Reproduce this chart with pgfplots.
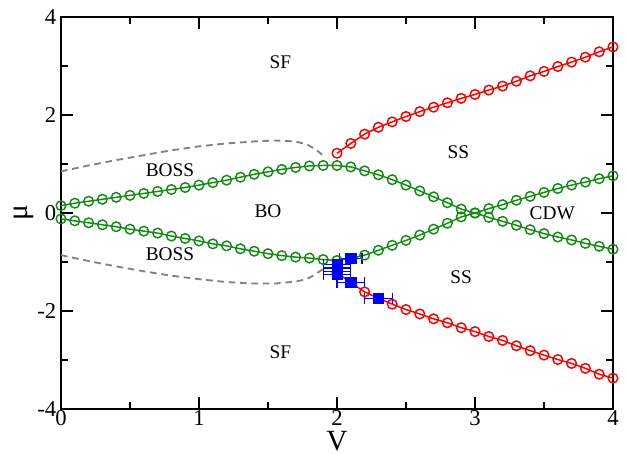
\documentclass[border=0pt]{standalone}
\usepackage{fontspec}
\setmainfont{Liberation Serif}
\usepackage{pgfplots}
\pgfplotsset{compat=1.18}
\definecolor{dgreen}{RGB}{20,140,20}
\definecolor{dgrey}{RGB}{130,130,130}
\begin{document}
\begin{tikzpicture}
\begin{axis}[
    scale only axis, width=414pt, height=294pt,
    xmin=0, xmax=4, ymin=-4, ymax=4,
    xtick={0,1,2,3,4}, ytick={-4,-2,0,2,4},
    minor xtick={0.5,1.5,2.5,3.5}, minor ytick={-3,-1,1,3},
    tick align=inside, major tick length=9pt, minor tick length=5pt,
    axis line style={line width=1pt},
    every tick/.style={black, line width=1pt},
    ticklabel style={font=\fontsize{17}{17}\selectfont},
    xticklabel style={inner sep=1pt},
    /pgf/number format/assume math mode=true,
    every axis x label/.style={at={(axis description cs:0.5,-0.081)}, anchor=center, inner sep=0pt},
    every axis y label/.style={at={(axis description cs:-0.068,0.5)}, rotate=90, anchor=center, inner sep=0pt},
    label style={font=\fontsize{22}{22}\selectfont},
    xlabel={V}, ylabel={μ},
    clip=false,
]
% boundaries of the BOSS region (grey dashed)
\addplot[dgrey, line width=1.4pt, dash pattern=on 5pt off 3.5pt] coordinates {
 (0,0.85) (0.2,0.97) (0.4,1.08) (0.6,1.18) (0.8,1.28) (1.0,1.36) (1.2,1.42)
 (1.4,1.46) (1.55,1.48) (1.7,1.46) (1.78,1.40) (1.84,1.31) (1.88,1.22) (1.91,1.13)};
\addplot[dgrey, line width=1.4pt, dash pattern=on 5pt off 3.5pt] coordinates {
 (0,-0.86) (0.2,-0.98) (0.4,-1.09) (0.6,-1.19) (0.8,-1.28) (1.0,-1.35) (1.2,-1.41)
 (1.4,-1.44) (1.55,-1.44) (1.7,-1.40) (1.78,-1.35) (1.84,-1.26) (1.88,-1.18) (1.91,-1.12)};

% BO / CDW boundaries
\addplot[dgreen, line width=1.1pt, mark=o, mark size=3.6pt, mark options={line width=1.1pt}] coordinates {
 (0.0,0.15) (0.1,0.20) (0.2,0.24) (0.3,0.28) (0.4,0.32) (0.5,0.36) (0.6,0.40)
 (0.7,0.44) (0.8,0.48) (0.9,0.52) (1.0,0.57) (1.1,0.62) (1.2,0.67) (1.3,0.73)
 (1.4,0.79) (1.5,0.84) (1.6,0.89) (1.7,0.93) (1.8,0.96) (1.9,0.97) (2.0,0.97)
 (2.1,0.94) (2.2,0.86) (2.3,0.78) (2.4,0.68) (2.5,0.57) (2.6,0.45) (2.7,0.33)
 (2.8,0.21) (2.9,0.08) (3.0,0.00) (3.1,-0.09) (3.2,-0.17) (3.3,-0.25) (3.4,-0.34)
 (3.5,-0.42) (3.6,-0.49) (3.7,-0.55) (3.8,-0.62) (3.9,-0.68) (4.0,-0.74)};
\addplot[dgreen, line width=1.1pt, mark=o, mark size=3.6pt, mark options={line width=1.1pt}] coordinates {
 (0.0,-0.12) (0.1,-0.16) (0.2,-0.20) (0.3,-0.24) (0.4,-0.28) (0.5,-0.33) (0.6,-0.37)
 (0.7,-0.41) (0.8,-0.47) (0.9,-0.52) (1.0,-0.57) (1.1,-0.63) (1.2,-0.67) (1.3,-0.73)
 (1.4,-0.78) (1.5,-0.83) (1.6,-0.87) (1.7,-0.90) (1.8,-0.92) (1.9,-0.95) (2.0,-0.97)
 (2.1,-0.93) (2.2,-0.86) (2.3,-0.76) (2.4,-0.66) (2.5,-0.56) (2.6,-0.45) (2.7,-0.33)
 (2.8,-0.21) (2.9,-0.08) (3.0,0.00) (3.1,0.09) (3.2,0.17) (3.3,0.26) (3.4,0.34)
 (3.5,0.42) (3.6,0.50) (3.7,0.57) (3.8,0.63) (3.9,0.70) (4.0,0.76)};

% SS / SF boundaries
\addplot[red, line width=1.1pt, mark=o, mark size=3.6pt, mark options={line width=1.1pt}] coordinates {
 (2.0,1.22) (2.1,1.42) (2.2,1.61) (2.3,1.75) (2.4,1.86) (2.5,1.97) (2.6,2.07)
 (2.7,2.16) (2.8,2.25) (2.9,2.34) (3.0,2.42) (3.1,2.51) (3.2,2.59) (3.3,2.69)
 (3.4,2.80) (3.5,2.89) (3.6,2.99) (3.7,3.08) (3.8,3.18) (3.9,3.29) (4.0,3.39)};
\addplot[red, line width=1.1pt, mark=o, mark size=3.6pt, mark options={line width=1.1pt}] coordinates {
 (2.0,-1.22) (2.1,-1.42) (2.2,-1.61) (2.3,-1.74) (2.4,-1.86) (2.5,-1.97) (2.6,-2.06)
 (2.7,-2.16) (2.8,-2.24) (2.9,-2.34) (3.0,-2.42) (3.1,-2.52) (3.2,-2.60) (3.3,-2.71)
 (3.4,-2.81) (3.5,-2.90) (3.6,-2.99) (3.7,-3.07) (3.8,-3.17) (3.9,-3.29) (4.0,-3.37)};

% QMC points with error bars
\addplot[blue, only marks, mark=square*, mark size=3.8pt,
    error bars/.cd, x dir=both, x explicit,
    error bar style={line width=1pt},
    error mark options={rotate=90, mark size=4pt, line width=1pt}]
    table[x=x, y=y, x error=ex] {
x    y     ex
2.0  -1.05 0.1
2.0  -1.12 0.1
2.0  -1.19 0.1
2.0  -1.25 0.1
2.1  -0.93 0.08
2.1  -1.42 0.1
2.3  -1.74 0.1
};

\node[font=\fontsize{14.5}{15}\selectfont] at (axis cs:1.59,3.08) {SF};
\node[font=\fontsize{14.5}{15}\selectfont] at (axis cs:1.59,-2.84) {SF};
\node[font=\fontsize{14.5}{15}\selectfont] at (axis cs:0.79,0.88) {BOSS};
\node[font=\fontsize{14.5}{15}\selectfont] at (axis cs:0.79,-0.84) {BOSS};
\node[font=\fontsize{14.5}{15}\selectfont] at (axis cs:1.50,0.04) {BO};
\node[font=\fontsize{14.5}{15}\selectfont] at (axis cs:2.88,1.25) {SS};
\node[font=\fontsize{14.5}{15}\selectfont] at (axis cs:2.90,-1.32) {SS};
\node[font=\fontsize{14.5}{15}\selectfont] at (axis cs:3.56,0.00) {CDW};
\end{axis}
\pgfresetboundingbox
\path[use as bounding box] (current axis.south west) ++(-45.75pt,-33.75pt) rectangle ++(469.5pt,340.5pt);
\end{tikzpicture}
\end{document}
